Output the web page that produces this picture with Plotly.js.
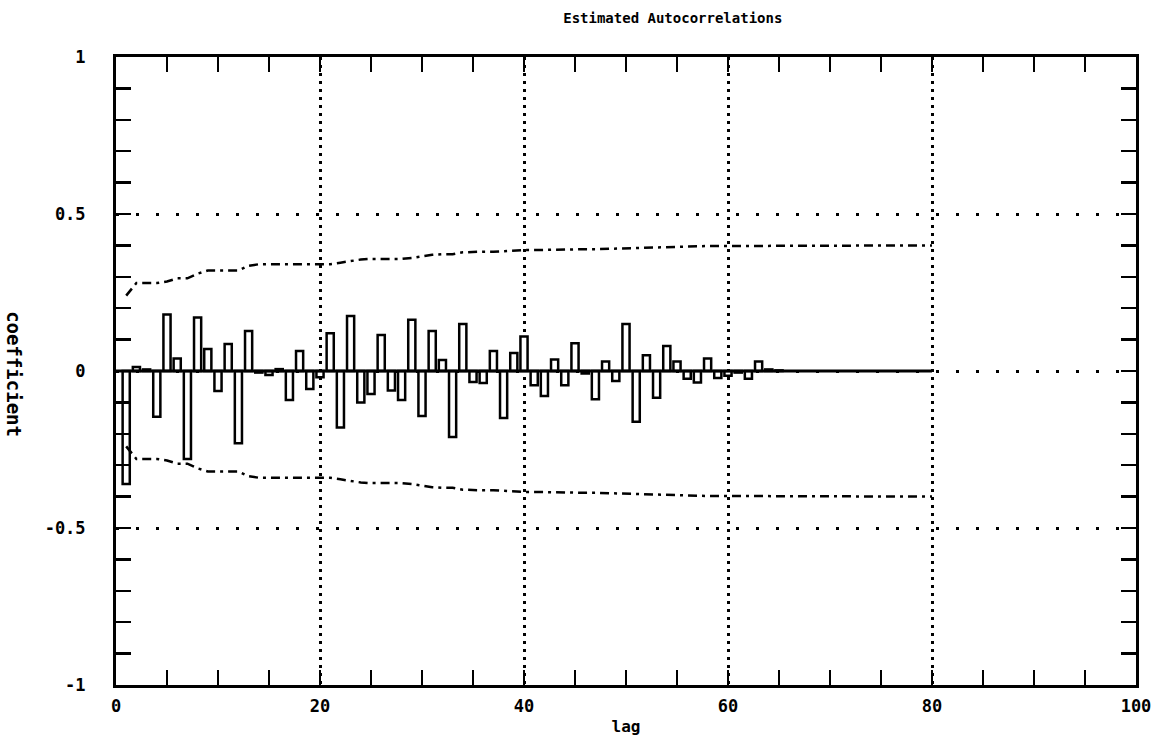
<!DOCTYPE html>
<html>
<head>
<meta charset="utf-8">
<script src="https://cdn.plot.ly/plotly-3.0.1.min.js"></script>
<style>html,body{margin:0;padding:0;background:#fff;}#chart{width:1166px;height:753px;}</style>
</head>
<body>
<div id="chart"></div>
<script>
// Estimated autocorrelations by lag
const lags = [];
for (let i = 1; i <= 65; i++) lags.push(i);
const acf = [
  -0.36, 0.013, 0.005, -0.146, 0.18, 0.04, -0.28, 0.17, 0.07, -0.064,
  0.086, -0.23, 0.127, -0.005, -0.013, 0.006, -0.092, 0.064, -0.057, -0.02,
  0.12, -0.18, 0.175, -0.10, -0.073, 0.115, -0.062, -0.092, 0.163, -0.143,
  0.127, 0.035, -0.21, 0.15, -0.035, -0.038, 0.064, -0.15, 0.057, 0.11,
  -0.045, -0.08, 0.037, -0.045, 0.088, -0.008, -0.09, 0.03, -0.032, 0.15,
  -0.162, 0.05, -0.085, 0.08, 0.03, -0.025, -0.037, 0.04, -0.022, -0.015,
  -0.005, -0.025, 0.03, 0.005, 0.002
];

// Approximate significance bounds at each lag
const boundLags = [];
for (let i = 1; i <= 80; i++) boundLags.push(i);
const upperBound = [
  0.24, 0.28, 0.28, 0.28, 0.285, 0.295, 0.295, 0.31, 0.32, 0.32,
  0.32, 0.32, 0.335, 0.34, 0.34, 0.34, 0.34, 0.34, 0.34, 0.34,
  0.34, 0.345, 0.35, 0.355, 0.357, 0.357, 0.357, 0.357, 0.36, 0.365,
  0.37, 0.372, 0.372, 0.378, 0.38, 0.38, 0.38, 0.382, 0.383, 0.385,
  0.385, 0.386, 0.386, 0.387, 0.387, 0.388, 0.388, 0.389, 0.389, 0.39,
  0.393, 0.394, 0.395, 0.396, 0.396, 0.397, 0.397, 0.398, 0.398, 0.398,
  0.399, 0.399, 0.4, 0.4, 0.4, 0.4, 0.4, 0.4, 0.4, 0.4,
  0.4, 0.4, 0.4, 0.4, 0.4, 0.4, 0.4, 0.4, 0.4, 0.4
];
const lowerBound = upperBound.map(v => -v);

const xTickVals = [0, 20, 40, 60, 80, 100];
const xTickText = ['0', '20', '40', '60', '80', '100'];
const yTickVals = [-1, -0.5, 0, 0.5, 1];
const yTickText = ['-1', '-0.5', '0', '0.5', '1'];

const FONT = 'DejaVu Sans Mono, monospace';
const baseX = [0, boundLags[boundLags.length - 1]];

const traces = [
  {
    type: 'scatter', mode: 'lines', x: baseX, y: baseX.map(() => 0),
    line: {color: '#000', width: 3}, hoverinfo: 'skip', showlegend: false
  },
  {
    type: 'bar', x: lags, y: acf, width: 0.7,
    marker: {color: '#fff', line: {color: '#000', width: 2.5}},
    showlegend: false
  },
  {
    type: 'scatter', mode: 'lines', x: boundLags, y: upperBound,
    line: {color: '#000', width: 2.5, dash: '9px,5px,3px,5px'}, showlegend: false
  },
  {
    type: 'scatter', mode: 'lines', x: boundLags, y: lowerBound,
    line: {color: '#000', width: 2.5, dash: '9px,5px,3px,5px'}, showlegend: false
  }
];

const layout = {
  width: 1166, height: 753,
  paper_bgcolor: '#fff', plot_bgcolor: '#fff',
  margin: {l: 116, r: 30, t: 57, b: 68},
  showlegend: false,
  bargap: 0,
  title: {
    text: 'Estimated Autocorrelations',
    x: 0.577, xanchor: 'center', y: 0.976, yanchor: 'middle',
    font: {family: FONT, size: 14, color: '#000', weight: 'bold'}
  },
  xaxis: {
    range: [0, 100], tickvals: xTickVals, ticktext: xTickText,
    ticks: 'inside', ticklen: 15, tickwidth: 2.5, tickcolor: '#000',
    minor: {dtick: 5, tick0: 0, ticks: 'inside', ticklen: 15, tickwidth: 2.5, tickcolor: '#000', showgrid: false},
    showline: true, linecolor: '#000', linewidth: 3, mirror: 'allticks',
    showgrid: true, gridcolor: '#000', gridwidth: 3, griddash: '3px,5px',
    zeroline: false,
    tickfont: {family: FONT, size: 17, color: '#000', weight: 'bold'},
    ticklabelstandoff: 4,
    title: {text: 'lag', standoff: 6, font: {family: FONT, size: 16, color: '#000', weight: 'bold'}}
  },
  yaxis: {
    range: [-1, 1], tickvals: yTickVals, ticktext: yTickText,
    ticks: 'inside', ticklen: 15, tickwidth: 2.5, tickcolor: '#000',
    minor: {dtick: 0.1, tick0: 0, ticks: 'inside', ticklen: 15, tickwidth: 2.5, tickcolor: '#000', showgrid: false},
    showline: true, linecolor: '#000', linewidth: 3, mirror: 'allticks',
    showgrid: true, gridcolor: '#000', gridwidth: 3, griddash: '3px,17px',
    zeroline: false,
    tickfont: {family: FONT, size: 17, color: '#000', weight: 'bold'},
    ticklabelstandoff: 24
  },
  annotations: [
    {
      text: 'coefficient', textangle: 90,
      xref: 'paper', yref: 'paper', x: -0.1, y: 0.495,
      xanchor: 'center', yanchor: 'middle', showarrow: false,
      font: {family: FONT, size: 19, color: '#000', weight: 'bold'}
    }
  ]
};

Plotly.newPlot('chart', traces, layout, {displayModeBar: false, staticPlot: true});
</script>
</body>
</html>
